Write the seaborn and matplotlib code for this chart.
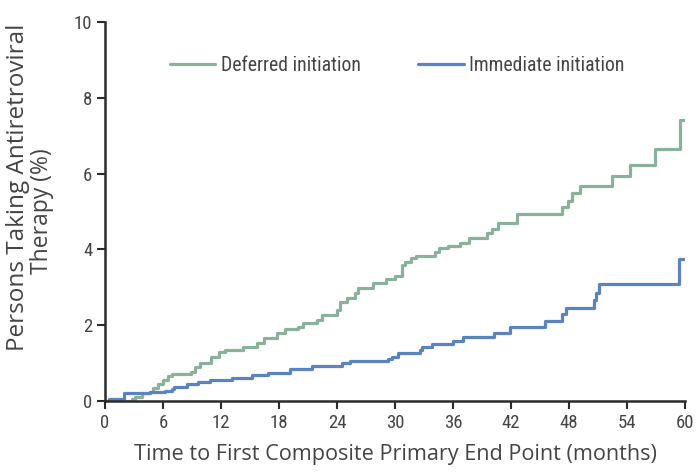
import matplotlib
matplotlib.use("Agg")
import matplotlib.pyplot as plt
import seaborn as sns
import pandas as pd

# step points (time in months, cumulative %), drawn as steps-post
deferred_t = [0, 2.8, 3.1, 3.8, 4.65, 5.0, 5.5, 6.0, 6.5, 6.9, 8.9, 9.3, 9.8, 11.0, 11.8,
              12.4, 14.3, 15.7, 16.5, 17.8, 18.6, 20.0, 20.5, 21.9, 22.4, 24.0, 24.3, 25.0,
              25.9, 26.2, 27.7, 29.1, 30.0, 30.7, 31.0, 31.7, 32.2, 34.1, 34.6, 35.5, 36.7,
              37.7, 39.5, 40.0, 40.7, 42.6, 47.3, 47.9, 48.3, 49.1, 52.4, 54.3, 56.9, 59.5, 60.0]
deferred_v = [0, 0.05, 0.1, 0.2, 0.25, 0.35, 0.45, 0.55, 0.65, 0.7, 0.77, 0.9, 1.01, 1.17, 1.28,
              1.35, 1.43, 1.52, 1.65, 1.79, 1.89, 1.95, 2.05, 2.15, 2.27, 2.4, 2.6, 2.73,
              2.85, 2.97, 3.12, 3.22, 3.30, 3.59, 3.68, 3.77, 3.83, 3.94, 4.03, 4.09, 4.18,
              4.31, 4.42, 4.54, 4.69, 4.93, 5.11, 5.28, 5.48, 5.68, 5.93, 6.23, 6.65, 7.41, 7.41]

immediate_t = [0, 0.4, 2.0, 4.7, 6.2, 6.9, 7.1, 8.5, 9.6, 10.9, 13.1, 15.2, 16.9, 19.1, 21.4,
               24.5, 25.3, 29.3, 29.7, 30.3, 32.6, 32.8, 33.8, 36.0, 37.0, 40.2, 41.9, 45.5,
               47.3, 47.7, 50.6, 50.8, 51.1, 59.4, 60.0]
immediate_v = [0, 0.05, 0.2, 0.23, 0.27, 0.33, 0.38, 0.45, 0.5, 0.55, 0.62, 0.69, 0.75, 0.84, 0.92,
               0.99, 1.05, 1.10, 1.17, 1.26, 1.35, 1.43, 1.50, 1.59, 1.70, 1.79, 1.94, 2.12,
               2.29, 2.46, 2.66, 2.86, 3.09, 3.74, 3.74]

groups = ["Deferred initiation", "Immediate initiation"]
colors = ["#8ab29b", "#5b83bf"]
x_ticks = [0, 6, 12, 18, 24, 30, 36, 42, 48, 54, 60]
y_ticks = [0, 2, 4, 6, 8, 10]

df = pd.concat([
    pd.DataFrame({"t": deferred_t, "v": deferred_v, "group": groups[0]}),
    pd.DataFrame({"t": immediate_t, "v": immediate_v, "group": groups[1]}),
])

sns.set_style("white")
text_col = "#444444"
narrow = ["Liberation Sans Narrow", "Roboto Condensed", "Open Sans Condensed",
          "Noto Sans Condensed", "Lato", "DejaVu Sans"]
label_font = ["Open Sans", "DejaVu Sans"]

fig, ax = plt.subplots(figsize=(6.97, 4.72), dpi=100)
fig.subplots_adjust(left=0.1506, right=0.9828, bottom=0.1504, top=0.9534)

sns.lineplot(data=df, x="t", y="v", hue="group", hue_order=groups, palette=colors,
             drawstyle="steps-post", linewidth=2.3, estimator=None, sort=False, ax=ax)

ax.set_xlim(0, 60)
ax.set_ylim(0, 10)
ax.set_xticks(x_ticks)
ax.set_yticks(y_ticks)
sns.despine(ax=ax)
for s in ["left", "bottom"]:
    ax.spines[s].set_linewidth(1.8)
    ax.spines[s].set_color("#2b2b2b")
ax.tick_params(axis="both", length=6, width=1.5, color="#2b2b2b", labelcolor=text_col,
               labelsize=13.5, pad=3, direction="out", left=True, bottom=True)
for lab in ax.get_xticklabels() + ax.get_yticklabels():
    lab.set_family(narrow)

ax.set_xlabel("Time to First Composite Primary End Point (months)", fontsize=15.6,
              color=text_col, family=label_font, labelpad=9)
ax.set_ylabel("")
ax.text(-0.150, 0.563, "Persons Taking Antiretroviral", rotation=90, ha="center", va="center",
        transform=ax.transAxes, fontsize=17.5, color=text_col, family=label_font)
ax.text(-0.108, 0.501, "Therapy (%)", rotation=90, ha="center", va="center",
        transform=ax.transAxes, fontsize=16.5, color=text_col, family=label_font)

leg = ax.legend(loc="upper center", bbox_to_anchor=(0.504, 0.958), ncol=2, frameon=False,
                handlelength=2.3, handletextpad=0.3, columnspacing=2.9,
                prop={"family": narrow, "size": 14.2})
for t in leg.get_texts():
    t.set_color(text_col)

fig.savefig("out.png", dpi=100)
